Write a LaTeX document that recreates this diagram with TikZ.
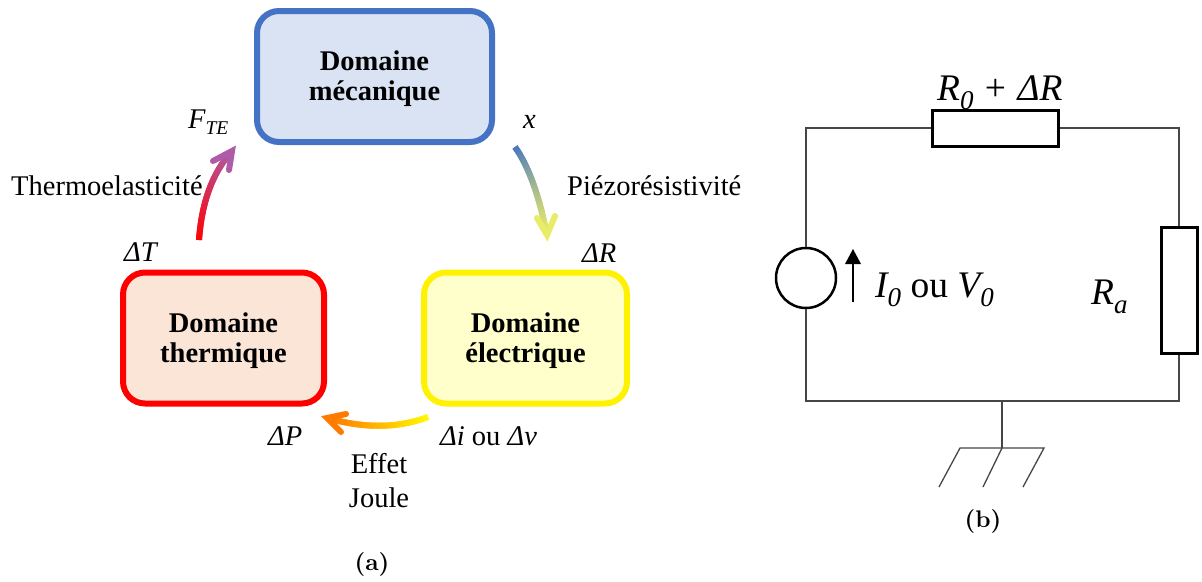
\documentclass[tikz,border=0pt]{standalone}
\usepackage{fontspec}
\usetikzlibrary{calc}
\newfontfamily\tnr{Liberation Serif}
\font\capfont="[lmroman10-bold.otf]" at 24pt
\definecolor{blueB}{RGB}{68,114,196}
\definecolor{blueF}{RGB}{218,227,243}
\definecolor{redF}{RGB}{251,229,214}
\definecolor{yelF}{RGB}{255,255,204}
\definecolor{yelA}{RGB}{232,236,105}
\definecolor{purA}{RGB}{174,92,168}
\definecolor{oraA}{RGB}{255,122,0}
\definecolor{wire}{RGB}{70,70,70}
\newcommand{\sz}[1]{\fontsize{#1}{30}\selectfont}
\newcommand{\lowsub}[2]{\raisebox{-0.24em}{\fontsize{#1}{#1}\selectfont\itshape #2}}
\newcommand{\gradarrow}[7]{%
  \foreach \i in {0,...,40}{%
    \pgfmathsetmacro{\t}{\i/40}%
    \coordinate (u) at ($(#1)!\t!(#2)$);
    \coordinate (v) at ($(#2)!\t!(#3)$);
    \coordinate (p\i) at ($(u)!\t!(v)$);
  }%
  \foreach \i [evaluate=\i as \j using {int(max(\i-1,0))}, evaluate=\i as \k using {int(\i+1)}, evaluate=\i as \m using {100*(\i+.5)/40}] in {0,...,39}{%
    \draw[line width=6pt,color={#6!\m!#7}] (p\j) -- (p\k);
  }%
  \draw[line width=6pt,color=#6,line join=miter,miter limit=10,line cap=round] (#4) -- (#3) -- (#5);
}
\tikzset{
  domainbox/.style={rounded corners=22pt,line width=6pt,minimum width=#1,minimum height=131pt,
    align=center,inner sep=0pt,font=\tnr\bfseries\sz{28.5}},
  lbl/.style={inner sep=0pt,anchor=base west,font=\tnr\itshape\sz{28.5}},
  txt/.style={inner sep=0pt,anchor=base,font=\tnr\sz{28.5}},
  big/.style={inner sep=0pt,anchor=base west,font=\tnr\itshape\sz{37.5}},
  figcap/.style={inner sep=0pt,anchor=base,font=\capfont},
  wireline/.style={wire,line width=1.3pt},
  res/.style={draw=black,line width=3pt,fill=white,inner sep=0pt}
}
\begin{document}
\begin{tikzpicture}[x=1pt,y=-1pt]
\useasboundingbox (0,0) rectangle (1202,581);
% domain boxes
\node[domainbox=235pt,draw=blueB,fill=blueF] (meca) at (374.5,76.5) {\rule{0pt}{25pt}Domaine\\mécanique};
\node[domainbox=201pt,draw=red,fill=redF] (therm) at (223.5,338) {\rule{0pt}{25pt}Domaine\\thermique};
\node[domainbox=203pt,draw=yellow,fill=yelF] (elec) at (525.5,338) {\rule{0pt}{25pt}Domaine\\électrique};
% gradient arrows
\coordinate (a1) at (199,240); \coordinate (c1) at (203,183); \coordinate (b1) at (232,151);
\coordinate (d1) at (213,161); \coordinate (e1) at (229,170);
\gradarrow{a1}{c1}{b1}{d1}{e1}{purA}{red}
\coordinate (a2) at (515,147); \coordinate (c2) at (535,175); \coordinate (b2) at (547,235);
\coordinate (d2) at (537,218); \coordinate (e2) at (555,216);
\gradarrow{a2}{c2}{b2}{d2}{e2}{yelA}{blueB}
\coordinate (a3) at (428,417); \coordinate (c3) at (383,434); \coordinate (b3) at (327,418);
\coordinate (d3) at (346,414); \coordinate (e3) at (341,432);
\gradarrow{a3}{c3}{b3}{d3}{e3}{oraA}{yellow}
% labels
\node[lbl] (fte) at (188,128) {F\lowsub{19.5}{TE}};
\node[lbl] (dT) at (124,261) {ΔT};
\node[lbl] (xl) at (523,128) {x};
\node[lbl] (dR) at (582,262) {ΔR};
\node[lbl] (dP) at (268,445) {ΔP};
\node[lbl] (di) at (440,445) {Δi {\upshape ou} Δv};
\node[txt,anchor=base west] (thermo) at (11,195) {Thermoelasticité};
\node[txt,anchor=base west] (piezo) at (567,195) {Piézorésistivité};
\node[txt] (effet) at (379,473) {Effet};
\node[txt] (joule) at (379,507) {Joule};
\node[figcap] (capa) at (372,570) {(a)};
\node[figcap] (capb) at (983,527) {(b)};
% circuit
\node[draw=black,line width=2.5pt,circle,minimum size=60pt,inner sep=0pt] (src) at (806,278) {};
\node[res,minimum width=126pt,minimum height=36pt] (R0) at (995,128) {};
\node[res,minimum width=36pt,minimum height=126pt] (Ra) at (1179,290) {};
\coordinate (gtop) at (1002,401);
\coordinate (gmid) at (1002,448);
\coordinate (gl) at (960,448);
\coordinate (gr) at (1044,448);
\coordinate (hl) at (939,487);
\coordinate (hm) at (983,487);
\coordinate (hr) at (1023,487);
\draw[wireline] (src.north) |- (R0.west);
\draw[wireline] (R0.east) -| (Ra.north);
\draw[wireline] (Ra.south) |- (gtop);
\draw[wireline] (src.south) |- (gtop);
\draw[wireline] (gtop) -- (gmid);
\draw[wireline] (hl) -- (gl) -- (gr) -- (hr);
\draw[wireline] (gmid) -- (hm);
\coordinate (ia) at (853,302);
\coordinate (ib) at (853,264);
\coordinate (ic) at (853,249);
\draw[wireline,black] (ia) -- (ib);
\fill[black] (ic) -- (845,264) -- (861,264) -- cycle;
\node[big] (R0l) at (937,100) {R\lowsub{27}{0}\hspace{2pt} {\upshape +}\hspace{2pt} ΔR};
\node[big] (Il) at (875,297) {I\lowsub{27}{0} {\upshape ou} V\lowsub{27}{0}};
\node[big] (Ral) at (1091,304) {R\lowsub{27}{a}};
\end{tikzpicture}
\end{document}
